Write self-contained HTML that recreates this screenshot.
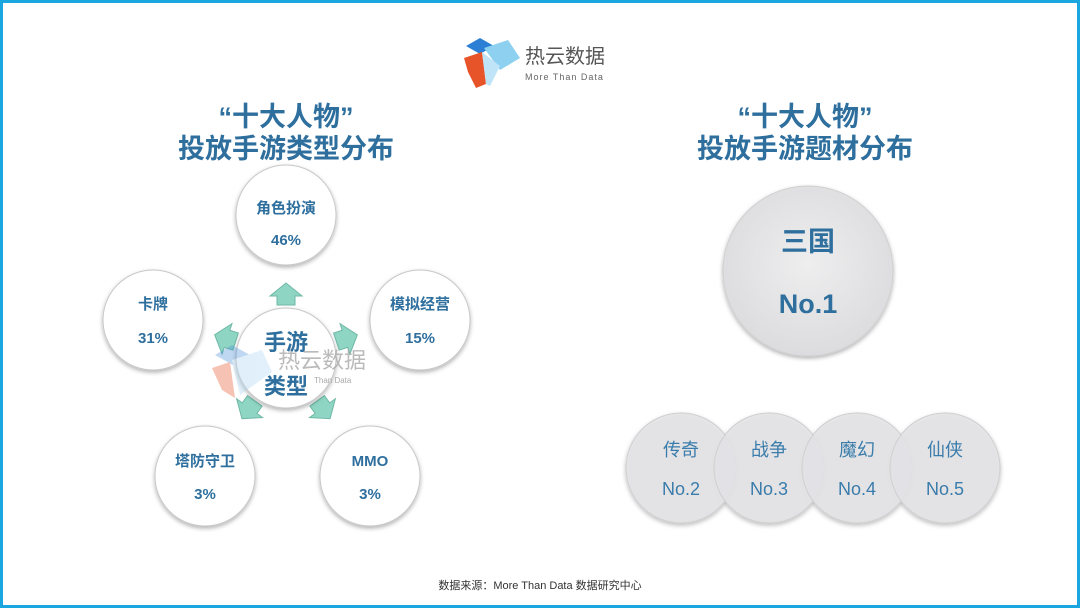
<!DOCTYPE html>
<html><head><meta charset="utf-8"><style>
html,body{margin:0;padding:0;background:#fff}
svg{display:block}
</style></head><body>
<svg width="1080" height="608" viewBox="0 0 1080 608" xmlns="http://www.w3.org/2000/svg" font-family="'Liberation Sans','Noto Sans CJK SC',sans-serif">
<defs>
<filter id="sh" x="-20%" y="-20%" width="140%" height="140%"><feDropShadow dx="0" dy="2" stdDeviation="2" flood-color="#000" flood-opacity="0.3"/></filter>
<radialGradient id="gg" cx="50%" cy="45%" r="55%"><stop offset="0" stop-color="#eeeeef"/><stop offset="1" stop-color="#dcdcde"/></radialGradient>
</defs>
<rect x="1.5" y="1.5" width="1077" height="605" fill="#fff" stroke="#1aa7e0" stroke-width="3"/>
<!-- logo -->
<polygon points="466,46 480,38 494,46 480,54" fill="#2b7fd4"/>
<polygon points="484,48 508,40 520,58 500,70" fill="#8dd0f0"/>
<polygon points="464,58 482,52 486,84 476,88 468,72" fill="#e8542a"/>
<polygon points="482,52 500,66 490,86 486,84" fill="#bfe3f7"/>
<text x="525" y="63" font-size="20" fill="#555">热云数据</text>
<text x="525" y="80" font-size="9" fill="#666" letter-spacing="1">More Than Data</text>
<!-- titles -->
<g font-size="27" font-weight="bold" fill="#2e6f9e" text-anchor="middle">
<text x="286" y="126">“十大人物”</text>
<text x="286" y="158">投放手游类型分布</text>
<text x="805" y="126">“十大人物”</text>
<text x="805" y="158">投放手游题材分布</text>
</g>
<!-- arrows -->
<g fill="#8fd5c3" stroke="#6fb8a6" stroke-width="1">
<polygon points="286,283 302,296 295,296 295,305 277,305 277,296 270,296"/>
<g transform="rotate(72 286 358)"><polygon points="286,283 302,296 295,296 295,305 277,305 277,296 270,296"/></g>
<g transform="rotate(144 286 358)"><polygon points="286,283 302,296 295,296 295,305 277,305 277,296 270,296"/></g>
<g transform="rotate(216 286 358)"><polygon points="286,283 302,296 295,296 295,305 277,305 277,296 270,296"/></g>
<g transform="rotate(288 286 358)"><polygon points="286,283 302,296 295,296 295,305 277,305 277,296 270,296"/></g>
</g>
<!-- left circles -->
<g fill="#fff" stroke="#c8c8c8" stroke-width="1" filter="url(#sh)">
<circle cx="286" cy="215" r="50"/>
<circle cx="153" cy="320" r="50"/>
<circle cx="420" cy="320" r="50"/>
<circle cx="205" cy="476" r="50"/>
<circle cx="370" cy="476" r="50"/>
<circle cx="286" cy="358" r="50"/>
</g>
<!-- watermark -->
<g opacity="0.35">
<polygon points="215,355 232,345 250,355 233,365" fill="#4a90d9"/>
<polygon points="212,368 230,362 235,398 222,390" fill="#e8542a"/>
<polygon points="232,360 262,350 272,372 240,395" fill="#a9d4f0"/>
</g>
<text x="278" y="368" font-size="22" fill="#aaa" opacity="0.8">热云数据</text>
<text x="314" y="383" font-size="8" fill="#aaa">Than Data</text>
<g fill="#2e6f9e" font-weight="bold" text-anchor="middle">
<text x="286" y="350" font-size="22">手游</text>
<text x="286" y="394" font-size="22">类型</text>
<g font-size="15">
<text x="286" y="213">角色扮演</text><text x="286" y="245">46%</text>
<text x="153" y="309">卡牌</text><text x="153" y="343">31%</text>
<text x="420" y="309">模拟经营</text><text x="420" y="343">15%</text>
<text x="205" y="466">塔防守卫</text><text x="205" y="499">3%</text>
<text x="370" y="466">MMO</text><text x="370" y="499">3%</text>
</g>
</g>
<!-- right -->
<circle cx="808" cy="271" r="85" fill="url(#gg)" stroke="#d0d0d0" filter="url(#sh)"/>
<g fill="#2e6f9e" font-weight="bold" text-anchor="middle" font-size="27">
<text x="808" y="251">三国</text>
<text x="808" y="313">No.1</text>
</g>
<g fill="#e4e4e6" fill-opacity="0.8" stroke="#cfcfcf" filter="url(#sh)">
<circle cx="681" cy="468" r="55"/>
<circle cx="769" cy="468" r="55"/>
<circle cx="857" cy="468" r="55"/>
<circle cx="945" cy="468" r="55"/>
</g>
<g fill="#3a7cab" text-anchor="middle" font-size="18">
<text x="681" y="456">传奇</text><text x="681" y="495">No.2</text>
<text x="769" y="456">战争</text><text x="769" y="495">No.3</text>
<text x="857" y="456">魔幻</text><text x="857" y="495">No.4</text>
<text x="945" y="456">仙侠</text><text x="945" y="495">No.5</text>
</g>
<text x="540" y="589" font-size="11" fill="#333" text-anchor="middle">数据来源：More Than Data 数据研究中心</text>
</svg>
</body></html>
